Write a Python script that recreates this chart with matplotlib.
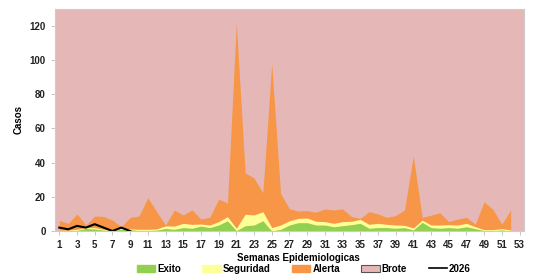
import numpy as np
import matplotlib
matplotlib.use("Agg")
import matplotlib.pyplot as plt
from matplotlib.patches import Patch
from matplotlib.lines import Line2D

plt.rcParams['font.family'] = ['Liberation Sans', 'DejaVu Sans']
plt.rcParams['font.weight'] = 'bold'

semanas = np.arange(1, 53)

# limites superiores (acumulados) del canal endemico
exito = [0, 0, 0.3, 1.5, 1.2, 0.5, 0.3, 1.0, 0.8, 0.2, 0.3, 0.5, 1.5,
         1.0, 2.0, 1.6, 2.9, 2.0, 3.5, 6.0, 0.2, 3.1, 3.5, 6.0, 0, 1.0,
         3.5, 4.9, 4.9, 3.5, 3.5, 2.5, 3.1, 3.7, 4.5, 1.6, 2.0, 2.0, 1.6,
         2.0, 0.6, 5.1, 2.0, 1.6, 2.0, 1.6, 2.5, 1.4, 0.2, 0.2, 0.6, 0]
seguridad = [0.5, 0.5, 1.0, 2.0, 2.0, 1.0, 0.8, 1.5, 1.2, 1.0, 1.0, 1.2, 3.0,
             2.9, 4.5, 3.9, 4.1, 3.5, 5.5, 8.4, 1.6, 9.8, 9.4, 11.3, 2.0, 3.5,
             6.0, 7.4, 7.6, 5.7, 5.5, 4.5, 5.5, 5.7, 6.8, 3.9, 4.5, 3.9, 3.5,
             3.3, 1.8, 6.4, 3.5, 3.5, 3.7, 3.5, 4.5, 2.5, 0.8, 0.8, 1.4, 0.6]
alerta = [6.2, 4.5, 10, 3.5, 8.8, 8.5, 6.4, 2.5, 8, 8.8, 19.5, 11.3, 3.5,
          12.3, 9.4, 12.3, 7, 8, 18.7, 16.4, 121.5, 34, 31, 22.4, 98, 22,
          13, 11.7, 11.9, 11, 12.9, 12.3, 13, 8.5, 7.4, 11.3, 10, 8, 9,
          12.3, 44, 8, 9.3, 10.7, 5.5, 7, 8, 4, 17, 12.7, 4, 12.3]

semanas_2026 = np.arange(1, 10)
casos_2026 = [2, 1, 3, 2, 4, 2, 0, 2, 0]

c_exito = '#92D050'
c_seg = '#FFFF99'
c_alerta = '#F79646'
c_brote = '#E5B8B7'

fig = plt.figure(figsize=(5.33, 2.77), dpi=100)
ax = fig.add_axes([0.103, 0.166, 0.880, 0.802])
ax.set_facecolor(c_brote)

ax.fill_between(semanas, 0, alerta, color=c_alerta, lw=0)
ax.fill_between(semanas, 0, seguridad, color=c_seg, lw=0)
ax.fill_between(semanas, 0, exito, color=c_exito, lw=0)
ax.plot(semanas_2026, casos_2026, color='black', lw=1.5)

ax.set_xlim(0.5, 53.5)
ax.set_ylim(0, 130)
ax.set_xticks(range(1, 54, 2))
ax.set_yticks(range(0, 121, 20))
ax.tick_params(labelsize=7, colors='#222222', length=3, width=0.6)
ax.tick_params(axis='both', color='#BBBBBB')
for s in ax.spines.values():
    s.set_color('#CCCCCC')
    s.set_linewidth(0.8)

ax.set_xlabel('Semanas Epidemiologicas', fontsize=7, fontweight='bold', labelpad=1)
ax.xaxis.set_label_coords(0.52, -0.1)
ax.set_ylabel('Casos', fontsize=7, fontweight='bold', labelpad=4)

handles = [Patch(facecolor=c_exito, edgecolor=c_exito),
           Patch(facecolor=c_seg, edgecolor=c_seg),
           Patch(facecolor=c_alerta, edgecolor=c_alerta),
           Patch(facecolor=c_brote, edgecolor='#555555', linewidth=0.8),
           Line2D([0], [0], color='black', lw=1.2)]
labels = ['Exito', 'Seguridad', 'Alerta', 'Brote', '2026']
fig.legend(handles, labels, loc='center', bbox_to_anchor=(0.57, 0.03), ncol=5,
           frameon=False, fontsize=7, handlelength=1.9, handleheight=0.7,
           columnspacing=2.2, handletextpad=0.2)

fig.savefig('out.png', dpi=100)
